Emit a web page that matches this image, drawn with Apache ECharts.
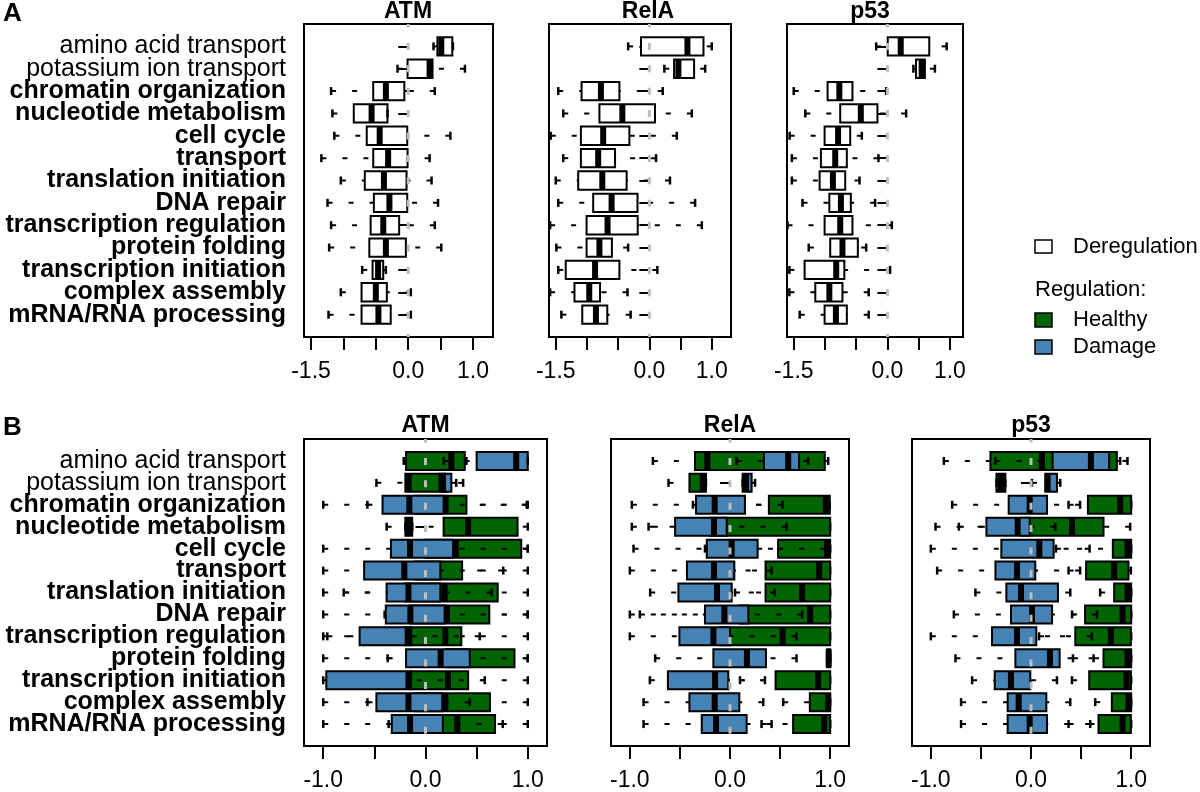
<!DOCTYPE html>
<html><head><meta charset="utf-8">
<script src="https://cdn.jsdelivr.net/npm/echarts@6/dist/echarts.min.js"></script>
<style>html,body{margin:0;padding:0;background:#fff}#c{width:1200px;height:792px}</style>
</head><body><div id="c"></div>
<script>
// ---------- data ----------
const categories = ['amino acid transport','potassium ion transport','chromatin organization','nucleotide metabolism','cell cycle','transport','translation initiation','DNA repair','transcription regulation','protein folding','transcription initiation','complex assembly','mRNA/RNA processing'];
const boldFrom = 2; // categories from this index are bold
const panelTitles = ['ATM','RelA','p53'];
const topTicks = [-1.5,-1,-0.5,0,0.5,1];
const topTickLabels = [-1.5,0,1];
const bottomTicks = [-1,-0.5,0,0.5,1];
const bottomTickLabels = [-1,0,1];
const zeroRef = 0;

// [lower whisker, Q1, median, Q3, upper whisker]
const atmDereg = [[0.39,0.45,0.51,0.68,0.69],[-0.165,-0.01,0.33,0.375,0.875],[-1.19,-0.54,-0.345,-0.06,0.41],[-1.17,-0.84,-0.565,-0.32,-0.32],[-1.14,-0.64,-0.44,-0.015,0.65],[-1.34,-0.54,-0.31,-0.01,0.33],[-1.04,-0.67,-0.375,-0.026,0.36],[-1.245,-0.53,-0.29,-0.015,0.46],[-1.19,-0.58,-0.385,-0.14,0.41],[-1.22,-0.60,-0.345,-0.036,0.51],[-0.71,-0.55,-0.465,-0.386,-0.345],[-1.04,-0.72,-0.50,-0.33,0.04],[-1.23,-0.72,-0.46,-0.27,0.04]];
const relaDereg = [[-0.34,-0.134,0.61,0.867,1.0],[0.24,0.396,0.465,0.717,0.894],[-1.46,-1.086,-0.776,-0.48,0.214],[-1.38,-0.80,-0.433,0.09,0.68],[-1.58,-1.097,-0.74,-0.32,0.44],[-1.38,-1.097,-0.82,-0.55,0.107],[-1.50,-1.14,-0.754,-0.364,0.33],[-1.46,-0.90,-0.605,-0.19,0.733],[-1.59,-1.006,-0.67,-0.187,0.84],[-1.49,-1.006,-0.80,-0.60,-0.34],[-1.46,-1.34,-0.87,-0.48,0.128],[-1.59,-1.20,-0.963,-0.79,-0.35],[-1.41,-1.075,-0.856,-0.674,-0.30]];
const p53Dereg = [[-0.18,0.005,0.213,0.67,0.948],[0.415,0.458,0.548,0.60,0.76],[-1.50,-0.958,-0.77,-0.56,-0.02],[-1.315,-0.756,-0.426,-0.16,0.30],[-1.565,-1.006,-0.79,-0.596,-0.41],[-1.53,-1.065,-0.836,-0.65,-0.144],[-1.53,-1.086,-0.873,-0.676,-0.447],[-1.36,-0.93,-0.745,-0.586,-0.197],[-1.6,-1.006,-0.756,-0.56,0.07],[-1.26,-0.916,-0.72,-0.474,-0.34],[-1.57,-1.326,-0.82,-0.69,0.043],[-1.57,-1.155,-0.93,-0.72,-0.30],[-1.405,-1.006,-0.825,-0.65,-0.30]];

const atmHealthy = [[-0.213,-0.19,0.253,0.384,0.40],[-0.48,-0.197,-0.165,0.2,0.3],[-0.568,-0.1,0.197,0.40,0.99],[-0.38,0.177,0.417,0.90,1.0],[-0.1,0.0,0.296,0.936,1.0],[-0.3,-0.1,0.1,0.358,0.76],[-0.80,-0.2,0.187,0.706,1.0],[-0.4,-0.15,0.21,0.624,1.0],[-0.96,-0.2,0.194,0.35,1.0],[-0.37,0.2,0.38,0.87,1.0],[-0.3,-0.15,0.22,0.417,1.0],[-0.568,-0.1,0.194,0.63,1.0],[-0.36,0.0,0.31,0.68,1.0]];
const atmDamage = [[0.177,0.50,0.887,1.0,1.0],[0.138,0.138,0.17,0.253,0.368],[-1.0,-0.42,-0.158,0.177,1.0],[-0.197,-0.197,-0.165,-0.13,-0.13],[-1.0,-0.338,-0.151,0.27,1.0],[-1.0,-0.60,-0.207,0.145,1.0],[-1.0,-0.38,-0.167,0.145,0.647],[-1.0,-0.388,-0.148,0.187,1.0],[-1.0,-0.644,-0.174,-0.14,0.53],[-1.0,-0.19,0.148,0.433,1.0],[-1.0,-0.97,-0.167,-0.14,0.58],[-1.0,-0.48,-0.167,0.164,0.433],[-1.0,-0.33,-0.151,0.17,0.755]];
const relaHealthy = [[-0.77,-0.349,-0.226,0.946,0.98],[-0.614,-0.405,-0.272,-0.24,-0.24],[-0.37,0.388,0.956,0.996,0.996],[-0.813,-0.2,-0.08,1.0,1.0],[-0.25,0.48,0.97,1.0,1.0],[-0.2,0.355,0.89,1.0,1.0],[0.05,0.355,0.72,1.0,1.0],[-0.9,0.1,0.80,1.0,1.0],[-0.3,-0.1,0.525,1.0,1.0],[0.97,0.97,0.985,1.0,1.0],[0.1,0.455,0.88,1.0,1.0],[0.531,0.797,0.98,1.0,1.0],[0.315,0.63,0.94,1.0,1.0]];
const relaDamage = [[0.066,0.339,0.581,0.69,0.78],[0.126,0.126,0.16,0.216,0.25],[-0.98,-0.339,-0.153,0.149,0.525],[-0.98,-0.548,-0.16,-0.033,0.564],[-0.963,-0.232,0.017,0.276,0.95],[-1.0,-0.43,-0.16,0.043,0.415],[-0.797,-0.515,-0.13,0.017,0.448],[-1.0,-0.25,-0.056,0.183,0.72],[-1.0,-0.505,-0.166,0.0,0.664],[-0.747,-0.166,0.169,0.359,0.664],[-0.80,-0.62,-0.149,-0.017,0.349],[-0.863,-0.405,-0.153,0.093,0.332],[-0.863,-0.282,-0.139,0.166,0.415]];
const p53Healthy = [[-0.87,-0.405,0.11,0.857,0.963],[-0.345,-0.345,-0.30,-0.256,-0.256],[0.375,0.568,0.89,1.0,1.0],[-0.72,-0.1,0.409,0.724,0.99],[0.25,0.817,0.963,1.0,1.0],[0.375,0.55,0.83,0.973,0.997],[0.69,0.83,0.963,1.0,1.0],[0.41,0.54,0.914,1.0,1.0],[0.08,0.442,0.797,0.997,1.0],[0.419,0.724,0.963,1.0,1.0],[0.409,0.581,0.953,0.997,1.0],[0.641,0.807,0.973,1.0,1.0],[0.375,0.674,0.914,0.997,1.0]];
const p53Damage = [[-0.355,0.216,0.598,0.78,0.89],[0.01,0.143,0.166,0.259,0.292],[-0.787,-0.223,-0.013,0.16,0.49],[-0.953,-0.445,-0.133,-0.013,0.243],[-1.0,-0.296,0.083,0.226,0.585],[-0.937,-0.355,-0.14,0.043,0.49],[-0.555,-0.246,-0.1,0.269,0.392],[-0.77,-0.2,0.01,0.21,0.658],[-1.0,-0.389,-0.14,0.053,0.608],[-0.754,-0.156,0.189,0.286,0.625],[-0.588,-0.362,-0.2,-0.007,0.259],[-0.698,-0.233,-0.123,0.153,0.392],[-0.698,-0.233,-0.013,0.16,0.591]];

// ---------- layout / style ----------
const FONT = '"Liberation Sans", Arial, Helvetica, sans-serif';
const GREEN = '#006400', BLUE = '#4682B4';
const yCats = [''].concat(categories, [' ']);
const showIdx = (i) => i > 0 && i < yCats.length - 1;
const panels = [
  {left:304, top:24, width:189, height:313, min:-1.608, max:1.308, ticks:topTicks, labels:topTickLabels, ylab:true},
  {left:549, top:24, width:182, height:313, min:-1.608, max:1.308, ticks:topTicks, labels:topTickLabels, ylab:false},
  {left:787, top:24, width:176, height:313, min:-1.608, max:1.21, ticks:topTicks, labels:topTickLabels, ylab:false},
  {left:304, top:439, width:243, height:314, min:-1.188, max:1.188, ticks:bottomTicks, labels:bottomTickLabels, ylab:true},
  {left:611, top:439, width:238, height:314, min:-1.188, max:1.188, ticks:bottomTicks, labels:bottomTickLabels, ylab:false},
  {left:912, top:439, width:238, height:314, min:-1.188, max:1.188, ticks:bottomTicks, labels:bottomTickLabels, ylab:false}
];

function boxRenderer(fill) {
  return function (params, api) {
    const row = api.value(0);
    const v = [1,2,3,4,5].map(d => api.coord([api.value(d), row])[0]);
    const y = api.coord([0, row])[1];
    const bh = api.size([0, 1])[1] * 0.82;
    const sh = 4;
    const kids = [];
    kids.push({type:'rect', shape:{x:v[1], y:y-bh/2, width:Math.max(v[3]-v[1], 0.5), height:bh}, style:{fill:fill, stroke:'#000', lineWidth:2}});
    kids.push({type:'rect', shape:{x:v[2]-3, y:y-bh/2, width:6, height:bh}, style:{fill:'#000'}});
    if (v[1]-v[0] > 1) kids.push({type:'line', shape:{x1:v[0],y1:y,x2:v[1],y2:y}, style:{stroke:'#000', lineWidth:2, lineDash:[5,16]}});
    if (v[4]-v[3] > 1) kids.push({type:'line', shape:{x1:v[4],y1:y,x2:v[3],y2:y}, style:{stroke:'#000', lineWidth:2, lineDash:[5,16]}});
    kids.push({type:'line', shape:{x1:v[0],y1:y-sh,x2:v[0],y2:y+sh}, style:{stroke:'#000', lineWidth:2.5}});
    kids.push({type:'line', shape:{x1:v[4],y1:y-sh,x2:v[4],y2:y+sh}, style:{stroke:'#000', lineWidth:2.5}});
    return {type:'group', children:kids};
  };
}
function zeroRenderer(params, api) {
  const p1 = api.coord([api.value(0), api.value(1)]);
  const p2 = api.coord([api.value(0), api.value(2)]);
  return {type:'line', shape:{x1:p1[0], y1:p1[1], x2:p2[0], y2:p2[1]}, style:{stroke:'#bdbdbd', lineWidth:3, lineDash:[7,15.4], lineDashOffset:3.5}};
}

const grid = [], xAxis = [], yAxis = [], series = [];
panels.forEach((p, i) => {
  grid.push({left:p.left, top:p.top, width:p.width, height:p.height, show:true, borderColor:'#000', borderWidth:2, backgroundColor:'transparent'});
  xAxis.push({type:'value', gridIndex:i, min:p.min, max:p.max, splitLine:{show:false},
    axisLine:{show:false},
    axisTick:{show:true, length:13, lineStyle:{color:'#000', width:2}, customValues:p.ticks},
    axisLabel:{customValues:p.labels, formatter:(v)=>Number(v).toFixed(1), fontSize:23, color:'#000', fontFamily:FONT, margin:23,
      showMinLabel:true, showMaxLabel:true}});
  yAxis.push({type:'category', gridIndex:i, data:yCats, inverse:true, boundaryGap:false,
    axisLine:{show:false}, splitLine:{show:false},
    axisTick:{show:true, length:10, interval:(idx)=>showIdx(idx), lineStyle:{color:'#000', width:2}},
    axisLabel:{show:p.ylab, interval:0, margin:18, hideOverlap:false,
      formatter:(val, idx)=> showIdx(idx) ? ((idx - 1 < boldFrom ? '{n|' : '{b|') + val + '}') : '',
      rich:{n:{fontSize:25, fontFamily:FONT, color:'#000'}, b:{fontSize:25, fontFamily:FONT, fontWeight:'bold', color:'#000'}}}});
});

function addBox(name, rows, gi, fill) {
  series.push({type:'custom', name:name, xAxisIndex:gi, yAxisIndex:gi, renderItem:boxRenderer(fill),
    encode:{x:[1,2,3,4,5], y:0}, itemStyle:{color:fill, borderColor:'#000'},
    data: rows.map((r, k) => [k + 1].concat(r)), silent:true});
}
addBox('Deregulation', atmDereg, 0, '#fff');
addBox('Deregulation', relaDereg, 1, '#fff');
addBox('Deregulation', p53Dereg, 2, '#fff');
addBox('Healthy', atmHealthy, 3, GREEN);
addBox('Damage', atmDamage, 3, BLUE);
addBox('Healthy', relaHealthy, 4, GREEN);
addBox('Damage', relaDamage, 4, BLUE);
addBox('Healthy', p53Healthy, 5, GREEN);
addBox('Damage', p53Damage, 5, BLUE);
panels.forEach((p, i) => {
  series.push({type:'custom', name:'zero', xAxisIndex:i, yAxisIndex:i, renderItem:zeroRenderer,
    encode:{x:0, y:[1,2]}, data:[[zeroRef, 0, yCats.length - 1]], silent:true, z:5});
});

function txt(t, x, y, size, bold, align) {
  return {type:'text', x:x, y:y, silent:true, style:{text:t, fontSize:size, fontWeight:bold?'bold':'normal', fontFamily:FONT, fill:'#000',
    align:align||'center', verticalAlign:'middle', textAlign:align||'center', textVerticalAlign:'middle'}};
}
const titleX = [[408,648,870],[425.5,730,1031]];
const graphic = [
  txt('A', 3, 14, 26, true, 'left'),
  txt('B', 3, 428, 26, true, 'left'),
  txt(panelTitles[0], titleX[0][0], 12, 23, true), txt(panelTitles[1], titleX[0][1], 12, 23, true), txt(panelTitles[2], titleX[0][2], 12, 23, true),
  txt(panelTitles[0], titleX[1][0], 426, 23, true), txt(panelTitles[1], titleX[1][1], 426, 23, true), txt(panelTitles[2], titleX[1][2], 426, 23, true),
  {type:'rect', shape:{x:1035, y:240, width:17, height:13}, style:{fill:'#fff', stroke:'#000', lineWidth:1.5}},
  txt('Deregulation', 1073, 246.5, 22, false, 'left'),
  txt('Regulation:', 1035, 290, 22, false, 'left'),
  {type:'rect', shape:{x:1035, y:313, width:17, height:14}, style:{fill:GREEN, stroke:'#000', lineWidth:1.5}},
  txt('Healthy', 1073, 320, 22, false, 'left'),
  {type:'rect', shape:{x:1035, y:340, width:17, height:14}, style:{fill:BLUE, stroke:'#000', lineWidth:1.5}},
  txt('Damage', 1073, 347, 22, false, 'left')
];

const chart = echarts.init(document.getElementById('c'), null, {renderer:'canvas'});
chart.setOption({animation:false, backgroundColor:'#fff', textStyle:{fontFamily:FONT}, grid, xAxis, yAxis, series, graphic});
</script>
</body></html>
